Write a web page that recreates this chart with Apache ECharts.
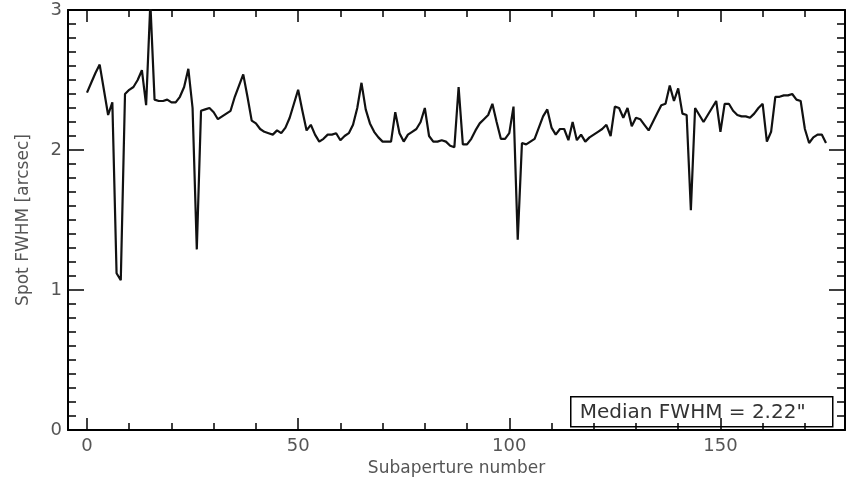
<!DOCTYPE html>
<html>
<head>
<meta charset="utf-8">
<script src="https://cdn.jsdelivr.net/npm/echarts@6/dist/echarts.min.js"></script>
<style>
html, body { margin: 0; padding: 0; background: #ffffff; }
#spotChart { width: 850px; height: 485px; }
</style>
</head>
<body>
<div id="spotChart"></div>
<script>
// subaperture index 0..175
const fwhm = [
	2.41, 2.48, 2.55, 2.61, 2.43, 2.25, 2.34, 1.12, 1.07, 2.40,
	2.43, 2.45, 2.50, 2.57, 2.32, 3.05, 2.36, 2.35, 2.35, 2.36,
	2.34, 2.34, 2.38, 2.45, 2.58, 2.30, 1.29, 2.28, 2.29, 2.30,
	2.27, 2.22, 2.24, 2.26, 2.28, 2.38, 2.46, 2.54, 2.38, 2.21,
	2.19, 2.15, 2.13, 2.12, 2.11, 2.14, 2.12, 2.16, 2.23, 2.33,
	2.43, 2.28, 2.14, 2.18, 2.11, 2.06, 2.08, 2.11, 2.11, 2.12,
	2.07, 2.10, 2.12, 2.18, 2.30, 2.48, 2.29, 2.19, 2.13, 2.09,
	2.06, 2.06, 2.06, 2.27, 2.12, 2.06, 2.11, 2.13, 2.15, 2.20,
	2.30, 2.10, 2.06, 2.06, 2.07, 2.06, 2.03, 2.02, 2.45, 2.04,
	2.04, 2.08, 2.14, 2.19, 2.22, 2.25, 2.33, 2.20, 2.08, 2.08,
	2.12, 2.31, 1.36, 2.05, 2.04, 2.06, 2.08, 2.16, 2.24, 2.29,
	2.16, 2.11, 2.15, 2.15, 2.07, 2.20, 2.07, 2.11, 2.06, 2.09,
	2.11, 2.13, 2.15, 2.18, 2.10, 2.31, 2.30, 2.23, 2.30, 2.17,
	2.23, 2.22, 2.18, 2.14, 2.20, 2.26, 2.32, 2.33, 2.46, 2.35,
	2.44, 2.26, 2.25, 1.57, 2.30, 2.25, 2.20, 2.25, 2.30, 2.35,
	2.13, 2.33, 2.33, 2.28, 2.25, 2.24, 2.24, 2.23, 2.26, 2.30,
	2.33, 2.06, 2.13, 2.38, 2.38, 2.39, 2.39, 2.40, 2.36, 2.35,
	2.15, 2.05, 2.09, 2.11, 2.11, 2.05
]
const xMajor = [0, 50, 100, 150]
const xMinor = [10, 20, 30, 40, 60, 70, 80, 90, 110, 120, 130, 140, 160, 170]
const medianText = 'Median FWHM = 2.22"'

let myCharts = echarts.init(document.getElementById("spotChart"))

const tickFont = {
	fontFamily: "DejaVu Sans",
	fontSize: 18,
	color: "#555555",
}
const nameFont = {
	fontFamily: "DejaVu Sans",
	fontSize: 17,
	color: "#555555",
}
const xBase = {
	type: "value",
	min: -4.5,
	max: 179.5,
	splitLine: { show: false },
}
let xAxes = [
	Object.assign({}, xBase, {
		position: "bottom",
		name: "Subaperture number",
		nameLocation: "middle",
		nameGap: 29,
		nameTextStyle: nameFont,
		axisLine: { show: true, onZero: false, lineStyle: { color: "#000", width: 2 } },
		axisTick: { show: true, inside: true, length: 12, customValues: xMajor, lineStyle: { color: "#000", width: 1.5 } },
		axisLabel: Object.assign({ show: true, margin: 7, customValues: xMajor }, tickFont),
	}),
	Object.assign({}, xBase, {
		position: "bottom",
		axisLine: { show: false, onZero: false },
		axisTick: { show: true, inside: true, length: 7, customValues: xMinor, lineStyle: { color: "#000", width: 1.5 } },
		axisLabel: { show: false },
	}),
	Object.assign({}, xBase, {
		position: "top",
		axisLine: { show: true, onZero: false, lineStyle: { color: "#000", width: 2 } },
		axisTick: { show: true, inside: true, length: 12, customValues: xMajor, lineStyle: { color: "#000", width: 1.5 } },
		axisLabel: { show: false },
	}),
	Object.assign({}, xBase, {
		position: "top",
		axisLine: { show: false, onZero: false },
		axisTick: { show: true, inside: true, length: 7, customValues: xMinor, lineStyle: { color: "#000", width: 1.5 } },
		axisLabel: { show: false },
	}),
]

const yBase = {
	type: "value",
	min: 0,
	max: 3,
	interval: 1,
	splitLine: { show: false },
	axisLine: { show: true, onZero: false, lineStyle: { color: "#000", width: 2 } },
	axisTick: { show: true, inside: true, length: 16, lineStyle: { color: "#000", width: 1.5 } },
	minorTick: { show: true, splitNumber: 10, length: 8, lineStyle: { color: "#000", width: 1.5 } },
}

let option = {
	backgroundColor: "#ffffff",
	animation: false,
	grid: {
		left: 68,
		right: 5,
		top: 10,
		bottom: 55,
	},
	xAxis: xAxes,
	yAxis: [
		Object.assign({}, yBase, {
			position: "left",
			name: "Spot FWHM [arcsec]",
			nameLocation: "middle",
			nameGap: 36,
			nameTextStyle: nameFont,
			axisLabel: Object.assign({ show: true, margin: 6 }, tickFont),
		}),
		Object.assign({}, yBase, {
			position: "right",
			axisLabel: { show: false },
		}),
	],
	series: [
		{
			type: "line",
			data: fwhm.map((v, i) => [i, v]),
			showSymbol: false,
			clip: true,
			lineStyle: { color: "#111111", width: 2.2 },
		},
	],
	graphic: [
		{
			type: "group",
			left: 570,
			top: 396,
			children: [
				{
					type: "rect",
					shape: { x: 0, y: 0, width: 262, height: 30 },
					style: { fill: "#ffffff", stroke: "#000000", lineWidth: 1.5 },
				},
				{
					type: "text",
					x: 9,
					y: 16,
					style: {
						text: medianText,
						fontFamily: "DejaVu Sans",
						fontSize: 20,
						fill: "#333333",
						verticalAlign: "middle",
					},
				},
			],
		},
	],
}

myCharts.setOption(option)
</script>
</body>
</html>
